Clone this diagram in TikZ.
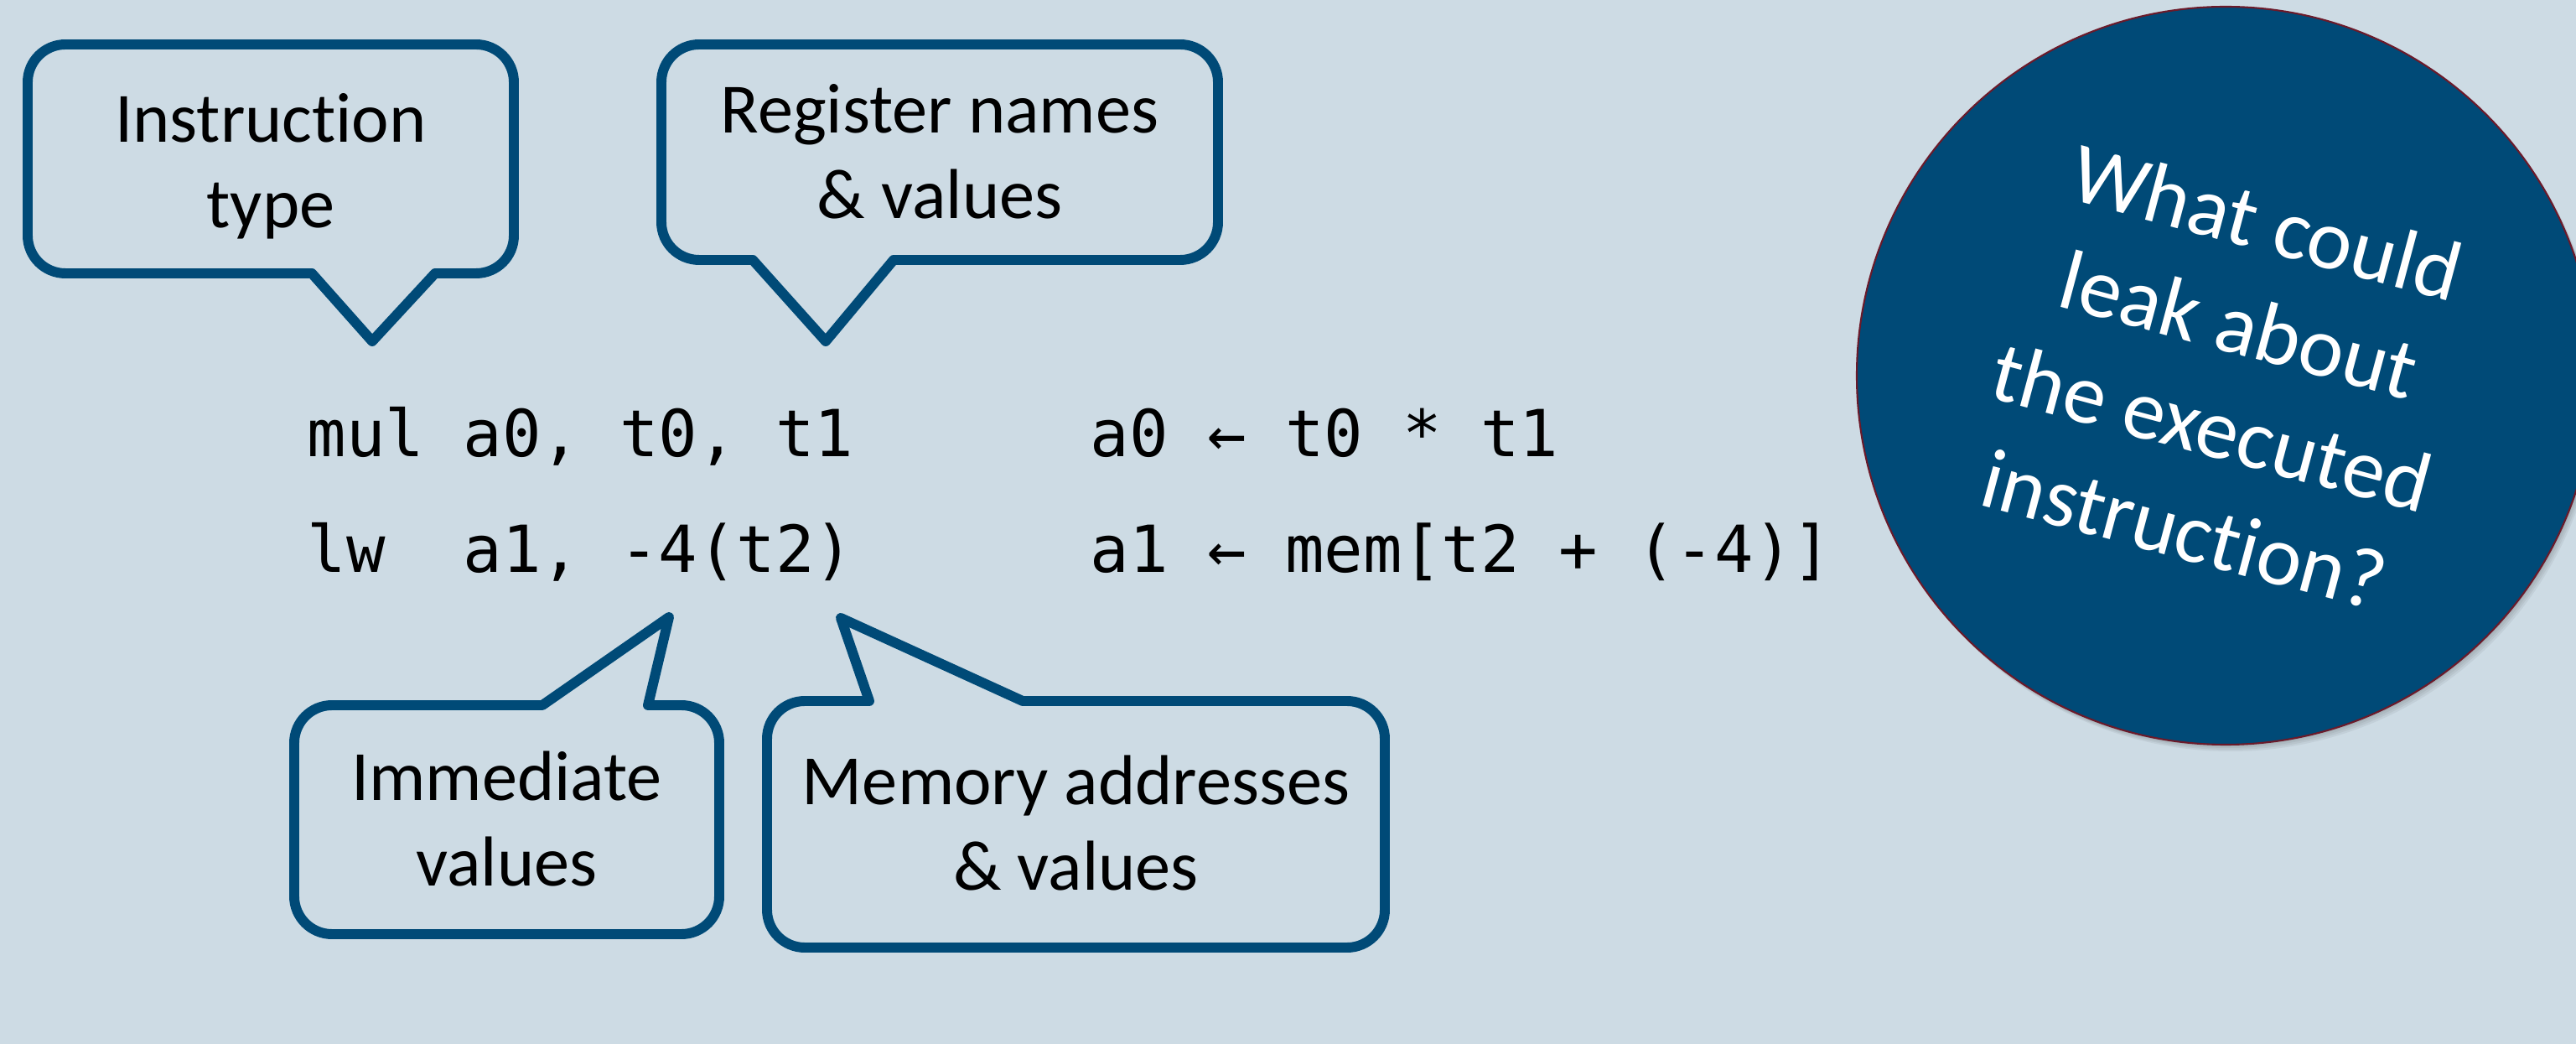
\documentclass[tikz,border=0pt]{standalone}
\usepackage{fontspec}
\setmainfont{Carlito}[Ligatures=NoCommon]
\setmonofont{DejaVu Sans Mono}
\definecolor{slidebg}{HTML}{CDDBE4}
\definecolor{calloutblue}{HTML}{004A77}
\definecolor{ringred}{HTML}{6B1A2A}
\tikzset{
  bubble/.style={draw=calloutblue, line width=3.4pt, line join=round},
  bubbletext/.style={align=center, font=\fontsize{24}{29}\selectfont},
  asm/.style={anchor=base west, inner sep=0pt, font=\ttfamily\fontsize{22}{26}\selectfont},
}

\begin{document}
\begin{tikzpicture}
  \fill[slidebg] (0,0) rectangle (30.73,-12.45);
  \useasboundingbox (0,0) rectangle (30.73,-12.45);
  \clip (0,0) rectangle (30.73,-12.45);

  % the two instructions and what they do
  \node[asm] (mul) at (3.66,-5.45) {mul a0, t0, t1};
  \node[asm] (lw) at (3.66,-6.83) {lw\ \ a1, -4(t2)};
  \node[asm] (muleff) at (13.0,-5.45) {a0 ← t0 * t1};
  \node[asm] (lweff) at (13.0,-6.83) {a1 ← mem[t2 + (-4)]};

  % callouts above
  \draw[bubble] (0.78,-0.53) -- (5.68,-0.53) arc (90:0:0.45) -- (6.13,-2.81) arc (0:-90:0.45)
    -- (5.19,-3.26) -- (4.44,-4.07) -- (3.72,-3.26) -- (0.78,-3.26) arc (270:180:0.45)
    -- (0.33,-0.98) arc (180:90:0.45) -- cycle;
  \node[bubbletext] (instr) at (3.23,-1.985) {Instruction\\type};

  \draw[bubble] (8.34,-0.53) -- (14.08,-0.53) arc (90:0:0.45) -- (14.53,-2.65) arc (0:-90:0.45)
    -- (10.66,-3.10) -- (9.85,-4.07) -- (8.98,-3.10) -- (8.34,-3.10) arc (270:180:0.45)
    -- (7.89,-0.98) arc (180:90:0.45) -- cycle;
  \node[bubbletext] (regs) at (11.21,-1.81) {Register names\\\& values};

  % callouts below
  \draw[bubble] (3.96,-8.41) -- (6.47,-8.41) -- (7.98,-7.36) -- (7.73,-8.41) -- (8.13,-8.41)
    arc (90:0:0.45) -- (8.58,-10.69) arc (0:-90:0.45) -- (3.96,-11.14) arc (270:180:0.45)
    -- (3.51,-8.86) arc (180:90:0.45) -- cycle;
  \node[bubbletext] (imm) at (6.045,-9.765) {Immediate\\values};

  \draw[bubble] (9.60,-8.36) -- (10.37,-8.36) -- (10.03,-7.37) -- (12.20,-8.36) -- (16.07,-8.36)
    arc (90:0:0.45) -- (16.52,-10.85) arc (0:-90:0.45) -- (9.60,-11.30) arc (270:180:0.45)
    -- (9.15,-8.81) arc (180:90:0.45) -- cycle;
  \node[bubbletext] (memaddr) at (12.835,-9.815) {Memory addresses\\\& values};

  % the question
  \foreach \d in {1,...,4}
    \fill[black, opacity=0.05] (26.55+0.015*\d,-4.48-0.02*\d) circle (4.40);
  \node[circle, fill=calloutblue, draw=ringred, line width=0.6pt, minimum size=8.8cm,
    inner sep=0pt] (leak) at (26.55,-4.48) {};
  \node[rotate=-15, text=white, align=center, font=\fontsize{29}{36}\selectfont]
    (question) at (leak.center) {What could\\leak about\\the executed\\instruction?};
\end{tikzpicture}
\end{document}
